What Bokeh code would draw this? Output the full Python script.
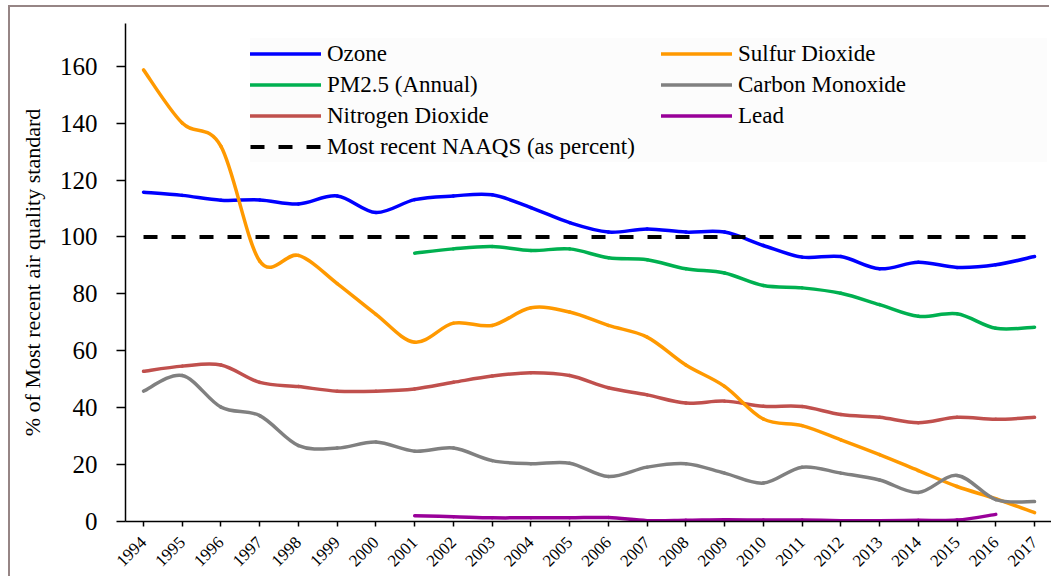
from bokeh.plotting import figure
from bokeh.models import Legend, LegendItem, FixedTicker, Range1d, ColumnDataSource
from bokeh.embed import file_html
from bokeh.resources import INLINE
import math

years = list(range(1994, 2018))
ozone = [115.7, 114.6, 112.9, 113.0, 111.6, 114.4, 108.6, 113.1, 114.4, 114.8, 110.3, 105.0,
         101.7, 102.8, 101.7, 101.7, 97.0, 92.9, 93.1, 88.8, 91.1, 89.3, 90.2, 93.1]
so2 = [158.7, 140.0, 131.8, 91.5, 93.5, 83.6, 72.8, 63.0, 69.7, 68.9, 75.1, 73.6,
       68.9, 64.8, 55.0, 47.5, 36.0, 33.7, 28.7, 23.5, 17.9, 12.3, 8.0, 3.1]
pm25 = [None, None, None, None, None, None, None, 94.3, 95.8, 96.6, 95.2, 95.8,
        92.7, 92.0, 88.8, 87.3, 82.9, 82.1, 80.2, 76.2, 72.1, 73.0, 67.9, 68.3]
no2 = [52.8, 54.6, 55.0, 48.9, 47.4, 45.8, 45.8, 46.6, 48.9, 51.1, 52.3, 51.3,
       47.0, 44.5, 41.6, 42.3, 40.5, 40.4, 37.6, 36.6, 34.7, 36.6, 35.9, 36.6]
co = [45.8, 51.3, 40.2, 37.2, 26.7, 25.8, 27.9, 24.7, 25.8, 21.4, 20.3, 20.5,
      15.8, 19.1, 20.3, 17.0, 13.5, 19.1, 17.0, 14.6, 10.2, 16.2, 7.7, 7.0]
lead = [None, None, None, None, None, None, None, 2.0, 1.7, 1.3, 1.3, 1.3,
        1.4, 0.3, 0.4, 0.6, 0.5, 0.5, 0.3, 0.3, 0.4, 0.5, 2.5, None]
naaqs_years = [1994, 2017]
naaqs_pct = [100, 100]

series_names = ["Ozone", "Sulfur Dioxide", "PM2.5 (Annual)", "Carbon Monoxide", "Nitrogen Dioxide", "Lead"]
series_colors = ["#0000FF", "#FF9900", "#00B050", "#808080", "#C0504D", "#990099"]
y_ticks = [0, 20, 40, 60, 80, 100, 120, 140, 160]

FONT = "Liberation Serif"


def smooth_source(xs, ys, t=1.0 / 6.0):
    pts = [(x, y) for x, y in zip(xs, ys) if y is not None]
    n = len(pts)
    d = dict(x0=[], y0=[], x1=[], y1=[], cx0=[], cy0=[], cx1=[], cy1=[])
    for i in range(n - 1):
        p0 = pts[max(i - 1, 0)]
        p1 = pts[i]
        p2 = pts[i + 1]
        p3 = pts[min(i + 2, n - 1)]
        d["x0"].append(p1[0]); d["y0"].append(p1[1])
        d["x1"].append(p2[0]); d["y1"].append(p2[1])
        d["cx0"].append(p1[0] + (p2[0] - p0[0]) * t)
        d["cy0"].append(p1[1] + (p2[1] - p0[1]) * t)
        d["cx1"].append(p2[0] - (p3[0] - p1[0]) * t)
        d["cy1"].append(p2[1] - (p3[1] - p1[1]) * t)
    return ColumnDataSource(d)


p = figure(width=1041, height=571, output_backend="svg", toolbar_location=None,
           x_range=Range1d(1993.535, 2017.438), y_range=Range1d(0, 175),
           min_border_left=115, min_border_right=0, min_border_top=16, min_border_bottom=57)
p.margin = (7, 0, 0, 10)
p.styles = {"box-shadow": "-2px -2px 0 0 #968585"}
p.outline_line_color = None
p.xgrid.visible = False
p.ygrid.visible = False

renderers = {}
data = {"Ozone": ozone, "Sulfur Dioxide": so2, "PM2.5 (Annual)": pm25,
        "Carbon Monoxide": co, "Nitrogen Dioxide": no2, "Lead": lead}
draw_order = ["Ozone", "PM2.5 (Annual)", "Nitrogen Dioxide", "Sulfur Dioxide", "Carbon Monoxide", "Lead"]
for name in draw_order:
    col = series_colors[series_names.index(name)]
    src = smooth_source(years, data[name])
    r = p.bezier(x0="x0", y0="y0", x1="x1", y1="y1", cx0="cx0", cy0="cy0", cx1="cx1", cy1="cy1",
                 source=src, line_color=col, line_width=3.5, line_cap="round")
    renderers[name] = r

r_naaqs = p.line(naaqs_years, naaqs_pct, line_color="black", line_width=4, line_dash="14 14")
r_dummy = p.line([], [], line_alpha=0)

# axes
p.xaxis.ticker = FixedTicker(ticks=years)
p.xaxis.major_label_overrides = {y: str(y) for y in years}
p.xaxis.major_label_orientation = math.pi / 4
p.xaxis.major_label_text_font = FONT
p.xaxis.major_label_text_font_size = "17px"
p.xaxis.major_label_text_color = "black"
p.xaxis.major_label_standoff = 13
p.xaxis.major_tick_out = 5
p.xaxis.major_tick_in = 0
p.xaxis.minor_tick_line_color = None
p.xaxis.axis_line_color = "black"
p.xaxis.axis_line_width = 1.5
p.xaxis.major_tick_line_color = "black"
p.xaxis.major_tick_line_width = 1.5

p.yaxis.ticker = FixedTicker(ticks=y_ticks)
p.yaxis.major_label_text_font = FONT
p.yaxis.major_label_text_font_size = "25px"
p.yaxis.major_label_text_color = "black"
p.yaxis.major_label_standoff = 19
p.yaxis.major_tick_out = 9
p.yaxis.major_tick_in = 0
p.yaxis.minor_tick_line_color = None
p.yaxis.axis_line_color = "black"
p.yaxis.axis_line_width = 1.5
p.yaxis.major_tick_line_color = "black"
p.yaxis.major_tick_line_width = 1.5
p.yaxis.axis_label = "% of Most recent air quality standard"
p.yaxis.axis_label_text_font = FONT
p.yaxis.axis_label_text_font_size = "22px"
p.yaxis.axis_label_text_font_style = "normal"
p.yaxis.axis_label_text_color = "black"
p.yaxis.axis_label_standoff = 12

common = dict(background_fill_color="#fcfcfc", background_fill_alpha=1.0, border_line_color=None,
              label_text_font=FONT, label_text_font_size="23px", label_text_color="black",
              glyph_width=71, glyph_height=31, label_height=31, spacing=0, padding=4,
              label_standoff=6, margin=0)

leg1 = Legend(items=[
    LegendItem(label="Ozone", renderers=[renderers["Ozone"]]),
    LegendItem(label="PM2.5 (Annual)", renderers=[renderers["PM2.5 (Annual)"]]),
    LegendItem(label="Nitrogen Dioxide", renderers=[renderers["Nitrogen Dioxide"]]),
    LegendItem(label="Most recent NAAQS (as percent)", renderers=[r_naaqs]),
], location=(125, 359), label_width=336, **common)
leg2 = Legend(items=[
    LegendItem(label="Sulfur Dioxide", renderers=[renderers["Sulfur Dioxide"]]),
    LegendItem(label="Carbon Monoxide", renderers=[renderers["Carbon Monoxide"]]),
    LegendItem(label="Lead", renderers=[renderers["Lead"]]),
    LegendItem(label=" ", renderers=[r_dummy]),
], location=(536, 359), label_width=309, **common)
p.add_layout(leg1)
p.add_layout(leg2)

open("out.html", "w").write(file_html(p, INLINE))
